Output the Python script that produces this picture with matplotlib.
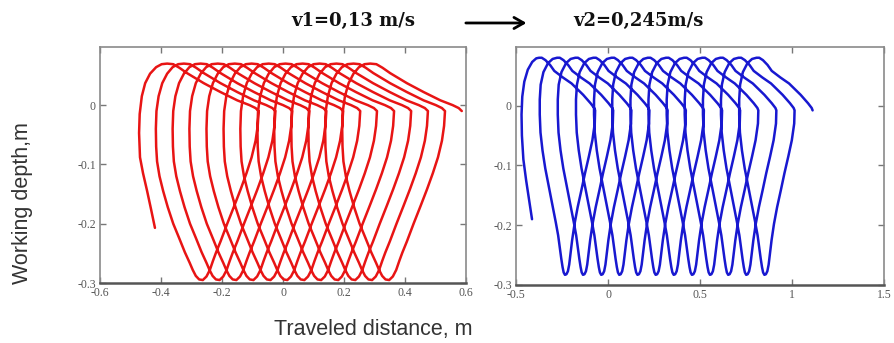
import matplotlib
matplotlib.use('Agg')
import matplotlib.pyplot as plt

plt.rcParams['axes.unicode_minus'] = False

# red panel, v1 = 0,13 m/s -----------------------------------------------------
red_start_x = [-0.420, -0.433, -0.446, -0.459, -0.469, -0.472, -0.470, -0.463,
               -0.452, -0.436, -0.416, -0.398]
red_start_y = [-0.207, -0.175, -0.144, -0.115, -0.088, -0.047, -0.015, 0.015,
               0.037, 0.053, 0.064, 0.069]
red_peaks = [-0.380, -0.325, -0.270, -0.214, -0.158, -0.103, -0.047,
             0.008, 0.064, 0.120, 0.175, 0.231, 0.286]
# one loop, x relative to its peak: top, slope down, corner, down stroke, up stroke
red_loop_dx = [0.000, 0.020, 0.040, 0.065, 0.120, 0.175, 0.230, 0.270, 0.290, 0.300,
               0.297, 0.290, 0.277, 0.260, 0.241, 0.220, 0.197, 0.175, 0.160,
               0.150, 0.140, 0.129, 0.117, 0.105, 0.094, 0.084,
               0.074, 0.058, 0.040, 0.020, 0.002, -0.013, -0.025,
               -0.033, -0.036, -0.037, -0.035, -0.028, -0.016, 0.000, 0.018,
               0.036]
red_loop_y = [0.070, 0.069, 0.063, 0.054, 0.037, 0.022, 0.008, 0.000, -0.005, -0.010,
              -0.035, -0.060, -0.088, -0.115, -0.142, -0.170, -0.200, -0.230, -0.249,
              -0.263, -0.278, -0.289, -0.295, -0.294, -0.288, -0.278,
              -0.266, -0.248, -0.225, -0.200, -0.172, -0.145, -0.120,
              -0.095, -0.070, -0.040, -0.010, 0.015, 0.037, 0.053, 0.064,
              0.069]
red_corner = 10

# blue panel, v2 = 0,245 m/s ---------------------------------------------------
blue_start_x = [-0.413, -0.428, -0.445, -0.460, -0.468, -0.470, -0.466, -0.455,
                -0.436, -0.412, -0.390]
blue_start_y = [-0.190, -0.160, -0.125, -0.090, -0.050, -0.015, 0.015, 0.040,
                0.060, 0.073, 0.079]
blue_peaks = [-0.375, -0.277, -0.178, -0.080, 0.019, 0.118, 0.216,
              0.315, 0.413, 0.512, 0.610, 0.709, 0.807]
blue_loop_dx = [0.000, 0.015, 0.035, 0.060, 0.083, 0.130, 0.177, 0.240, 0.280, 0.300,
                0.305,
                0.303, 0.290, 0.271, 0.250, 0.230, 0.210, 0.193, 0.180, 0.170,
                0.164, 0.157, 0.149, 0.141, 0.134, 0.128, 0.121, 0.113,
                0.104, 0.091, 0.072, 0.053, 0.034, 0.019,
                0.008, 0.004, 0.004, 0.009, 0.024, 0.049, 0.074]
blue_loop_y = [0.080, 0.080, 0.076, 0.068, 0.058, 0.047, 0.037, 0.018, 0.004, -0.004,
               -0.008,
               -0.030, -0.058, -0.085, -0.113, -0.142, -0.170, -0.198, -0.225, -0.250,
               -0.266, -0.277, -0.282, -0.283, -0.279, -0.270, -0.256, -0.238,
               -0.217, -0.195, -0.165, -0.135, -0.105, -0.075,
               -0.045, -0.015, 0.010, 0.035, 0.056, 0.071, 0.078]
blue_corner = 11


def trajectory(start_x, start_y, peaks, loop_dx, loop_y, corner):
    xs = list(start_x)
    ys = list(start_y)
    for k, p in enumerate(peaks):
        n = len(loop_dx) if k < len(peaks) - 1 else corner
        xs += [p + d for d in loop_dx[:n]]
        ys += loop_y[:n]
    return xs, ys


def style_axes(ax, xticks, yticks, xlim):
    ax.set_xlim(*xlim)
    ax.set_ylim(-0.3, 0.098)
    ax.set_xticks(xticks)
    ax.set_yticks(yticks)
    ax.set_xticklabels(['%g' % t for t in xticks])
    ax.set_yticklabels(['%g' % t for t in yticks])
    ax.tick_params(direction='in', top=True, right=True, length=4, width=1,
                   color='#777777', labelcolor='#555555', labelsize=8.5, pad=3)
    for lab in ax.get_xticklabels() + ax.get_yticklabels():
        lab.set_family('Liberation Serif')
    for s in ax.spines.values():
        s.set_color('#8a8a8a')
        s.set_linewidth(1.2)
    ax.spines['bottom'].set_color('#555555')
    ax.spines['bottom'].set_linewidth(1.8)


fig = plt.figure(figsize=(8.94, 3.43), dpi=100)
ax1 = fig.add_axes([0.1119, 0.1749, 0.4094, 0.6881])
ax2 = fig.add_axes([0.5772, 0.1691, 0.4116, 0.6939])

x, y = trajectory(red_start_x, red_start_y, red_peaks, red_loop_dx, red_loop_y, red_corner)
ax1.plot(x, y, color='#e81414', lw=1.8, solid_joinstyle='round', solid_capstyle='round')
style_axes(ax1, [-0.6, -0.4, -0.2, 0, 0.2, 0.4, 0.6], [-0.3, -0.2, -0.1, 0], (-0.6, 0.6))

x, y = trajectory(blue_start_x, blue_start_y, blue_peaks, blue_loop_dx, blue_loop_y, blue_corner)
ax2.plot(x, y, color='#1818d0', lw=1.8, solid_joinstyle='round', solid_capstyle='round')
style_axes(ax2, [-0.5, 0, 0.5, 1, 1.5], [-0.3, -0.2, -0.1, 0], (-0.5, 1.5))

fig.text(0.395, 0.94, 'v1=0,13 m/s', ha='center', va='center', fontsize=13,
         fontweight='bold', family='DejaVu Serif', color='#111111')
fig.text(0.714, 0.94, 'v2=0,245m/s', ha='center', va='center', fontsize=13,
         fontweight='bold', family='DejaVu Serif', color='#111111')
fig.add_artist(matplotlib.patches.FancyArrowPatch(
    (0.518, 0.933), (0.592, 0.933), transform=fig.transFigure,
    arrowstyle='->,head_length=7,head_width=4', lw=2, color='black'))

fig.text(0.418, 0.038, 'Traveled distance, m', ha='center', va='center',
         fontsize=15.5, family='Liberation Sans', color='#333333')
fig.text(0.025, 0.408, 'Working depth,m', ha='center', va='center', rotation=90,
         fontsize=15.5, family='Liberation Sans', color='#333333')

fig.savefig('out.png', dpi=100)
